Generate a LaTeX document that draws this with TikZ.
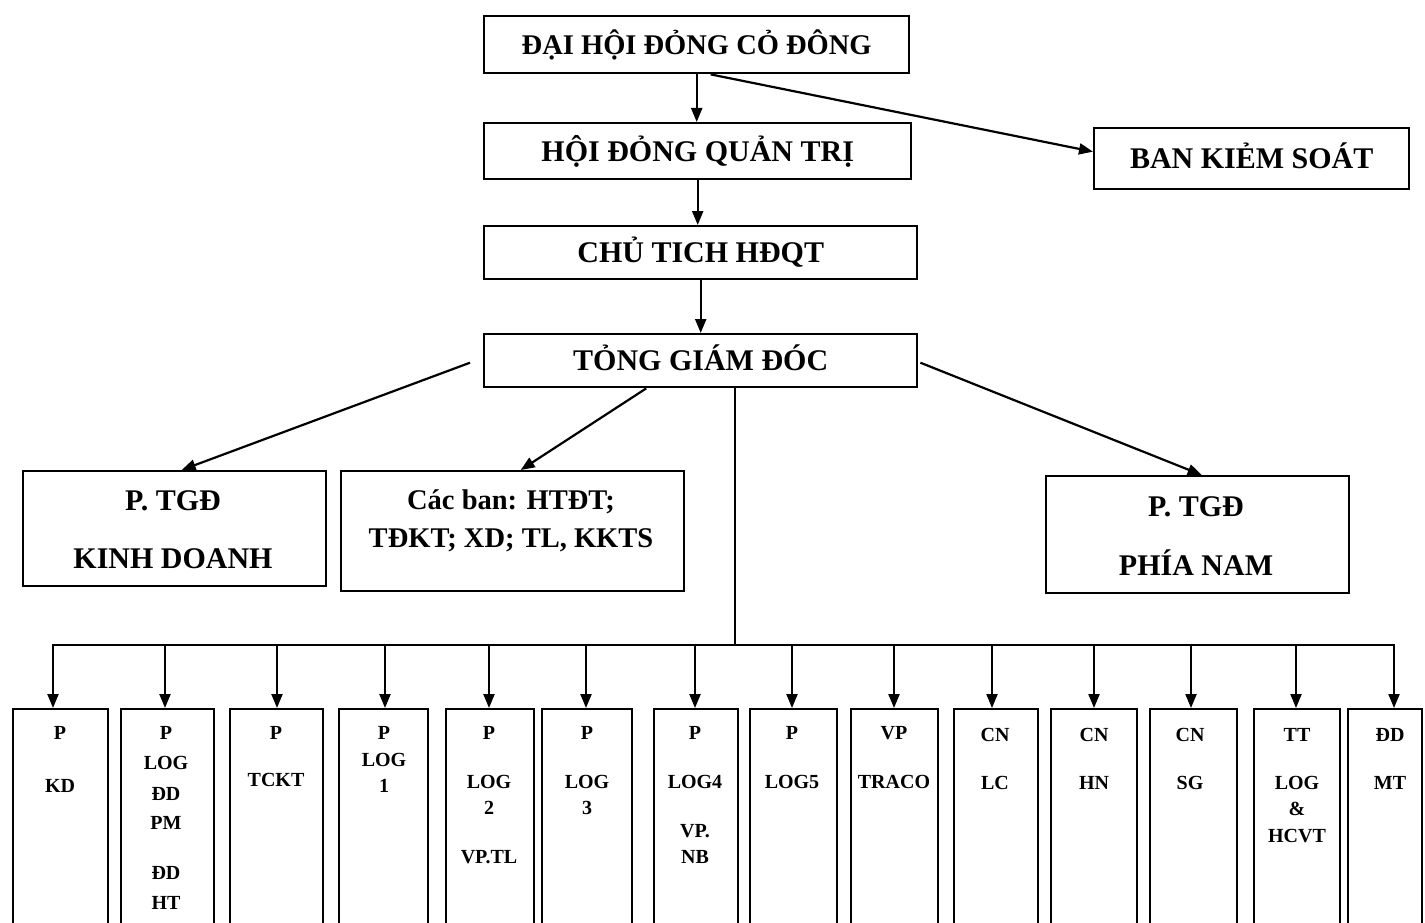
\documentclass[tikz,border=0pt]{standalone}
\usepackage{fontspec}
\setmainfont{Liberation Serif}
\usetikzlibrary{arrows.meta,calc}
\newcommand\tline[4]{\node[small] (#1) at (#2,#3) {#4};}
\begin{document}
\begin{tikzpicture}[x=1pt,y=-1pt,
  box/.style={draw=black,line width=2.4pt,fill=white,inner sep=0pt,anchor=north west},
  big/.style={font=\fontsize{30}{36}\selectfont\bfseries,text height=20pt,text depth=0pt},
  bigt/.style={font=\fontsize{30}{36}\selectfont\bfseries,inner sep=0pt,text height=20pt,text depth=0pt},
  midt/.style={font=\fontsize{28.5}{34}\selectfont\bfseries,inner sep=0pt,text height=19pt,text depth=0pt},
  small/.style={font=\fontsize{20}{24}\selectfont\bfseries,inner sep=0pt,text height=13.5pt,text depth=0pt},
  arr/.style={line width=2.2pt,-{Triangle[length=14pt,width=11pt]}},
  ln/.style={line width=2.2pt}]
\clip (0,0) rectangle (1425,923);
\fill[white] (0,0) rectangle (1425,923);

% upper boxes
\node[box,big,font=\fontsize{28.5}{34}\selectfont\bfseries,minimum width=425,minimum height=57] (A) at (483,15) {ĐẠI HỘI ĐỎNG CỎ ĐÔNG};
\node[box,big,minimum width=427,minimum height=56] (B) at (483,122) {HỘI ĐỎNG QUẢN TRỊ};
\node[box,big,minimum width=433,minimum height=53] (C) at (483,225) {CHỦ TICH HĐQT};
\node[box,big,minimum width=433,minimum height=53] (D) at (483,333) {TỎNG GIÁM ĐÓC};
\node[box,big,minimum width=315,minimum height=61] (BKS) at (1093,127) {BAN KIẺM SOÁT};

\node[box,minimum width=303,minimum height=115] (KD) at (22,470) {};
\node[bigt] (kd1) at (173,500) {P. TGĐ};
\node[bigt] (kd2) at (173,558) {KINH DOANH};
\node[box,minimum width=343,minimum height=120] (CB) at (340,470) {};
\node[midt] (cb1) at (511,500) {Các ban: HTĐT;};
\node[midt] (cb2) at (511,538) {TĐKT; XD; TL, KKTS};
\node[box,minimum width=303,minimum height=117] (PN) at (1045,475) {};
\node[bigt] (pn1) at (1196,506) {P. TGĐ};
\node[bigt] (pn2) at (1196,565) {PHÍA NAM};

% bottom boxes
\node[box,minimum width=95,minimum height=240] (b1) at (12,708) {};
\node[box,minimum width=93,minimum height=240] (b2) at (120,708) {};
\node[box,minimum width=93,minimum height=240] (b3) at (229,708) {};
\node[box,minimum width=89,minimum height=240] (b4) at (338,708) {};
\node[box,minimum width=88,minimum height=240] (b5) at (445,708) {};
\node[box,minimum width=90,minimum height=240] (b6) at (541,708) {};
\node[box,minimum width=84,minimum height=240] (b7) at (653,708) {};
\node[box,minimum width=87,minimum height=240] (b8) at (749,708) {};
\node[box,minimum width=87,minimum height=240] (b9) at (850,708) {};
\node[box,minimum width=84,minimum height=240] (b10) at (953,708) {};
\node[box,minimum width=86,minimum height=240] (b11) at (1050,708) {};
\node[box,minimum width=87,minimum height=240] (b12) at (1149,708) {};
\node[box,minimum width=86,minimum height=240] (b13) at (1253,708) {};
\node[box,minimum width=74,minimum height=240] (b14) at (1347,708) {};

% bottom texts
\tline{b1a}{60}{733}{P}\tline{b1b}{60}{786}{KD}
\tline{b2a}{166}{733}{P}\tline{b2b}{166}{763}{LOG}\tline{b2c}{166}{794}{ĐD}\tline{b2d}{166}{823}{PM}\tline{b2e}{166}{873}{ĐD}\tline{b2f}{166}{903}{HT}
\tline{b3a}{276}{733}{P}\tline{b3b}{276}{780}{TCKT}
\tline{b4a}{384}{733}{P}\tline{b4b}{384}{760}{LOG}\tline{b4c}{384}{786}{1}
\tline{b5a}{489}{733}{P}\tline{b5b}{489}{782}{LOG}\tline{b5c}{489}{808}{2}\tline{b5d}{489}{857}{VP.TL}
\tline{b6a}{587}{733}{P}\tline{b6b}{587}{782}{LOG}\tline{b6c}{587}{808}{3}
\tline{b7a}{695}{733}{P}\tline{b7b}{695}{782}{LOG4}\tline{b7c}{695}{831}{VP.}\tline{b7d}{695}{857}{NB}
\tline{b8a}{792}{733}{P}\tline{b8b}{792}{782}{LOG5}
\tline{b9a}{894}{733}{VP}\tline{b9b}{894}{782}{TRACO}
\tline{b10a}{995}{735}{CN}\tline{b10b}{995}{783}{LC}
\tline{b11a}{1094}{735}{CN}\tline{b11b}{1094}{783}{HN}
\tline{b12a}{1190}{735}{CN}\tline{b12b}{1190}{783}{SG}
\tline{b13a}{1297}{735}{TT}\tline{b13b}{1297}{783}{LOG}\tline{b13c}{1297}{809}{\&}\tline{b13d}{1297}{836}{HCVT}
\tline{b14a}{1390}{735}{ĐD}\tline{b14b}{1390}{783}{MT}

% upper connectors
\draw[arr] (A.south) -- (A.south |- B.north);
\draw[arr] ($(A.south)+(14,0)$) -- ($(BKS.west)+(0,-7)$);
\draw[arr] (B.south) -- (B.south |- C.north);
\draw[arr] (C.south) -- (C.south |- D.north);
\draw[arr] ($(D.west)+(-13,2)$) -- ($(KD.north)+(7,0)$);
\draw[arr] ($(D.south)+(-54.5,0)$) -- ($(CB.north)+(8,0)$);
\draw[arr] ($(D.east)+(2,2)$) -- ($(PN.north)+(4,0)$);

% bus
\coordinate (bus) at (735,645);
\draw[ln] (D.south -| bus) -- (bus);
\coordinate (t1) at (53,645);
\coordinate (t2) at (165,645);
\coordinate (t3) at (277,645);
\coordinate (t4) at (385,645);
\coordinate (t5) at (489,645);
\coordinate (t6) at (586,645);
\coordinate (t7) at (695,645);
\coordinate (t8) at (792,645);
\coordinate (t9) at (894,645);
\coordinate (t10) at (992,645);
\coordinate (t11) at (1094,645);
\coordinate (t12) at (1191,645);
\coordinate (t13) at (1296,645);
\coordinate (t14) at (1394,645);
\draw[ln,line cap=rect] (t1) -- (t14);
\foreach \i in {1,...,14}{
  \draw[arr] (t\i) -- (t\i |- b\i.north);
}
\end{tikzpicture}
\end{document}
